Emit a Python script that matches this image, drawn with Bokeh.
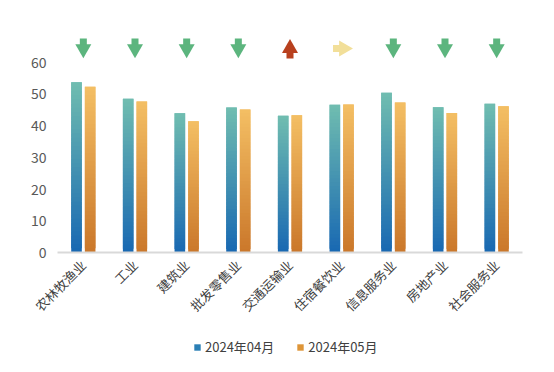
import math
from bokeh.plotting import figure
from bokeh.layouts import column
from bokeh.models import ColumnDataSource, FactorRange, Legend, LegendItem, FixedTicker, Range1d
from bokeh.transform import dodge
from bokeh.embed import file_html
from bokeh.resources import INLINE

categories = ["农林牧渔业", "工业", "建筑业", "批发零售业", "交通运输业",
              "住宿餐饮业", "信息服务业", "房地产业", "社会服务业"]
apr_values = [53.7, 48.5, 43.9, 45.7, 43.1, 46.6, 50.4, 45.8, 46.9]
may_values = [52.3, 47.6, 41.4, 45.1, 43.3, 46.7, 47.3, 44.0, 46.1]
trend = ["down", "down", "down", "down", "up", "right", "down", "down", "down"]
series_names = ["2024年04月", "2024年05月"]
y_ticks = [0, 10, 20, 30, 40, 50, 60]

FONT = "Noto Sans CJK SC"
APR_TOP, APR_BOT = (0x70, 0xBD, 0xB0), (0x18, 0x68, 0xB2)
MAY_TOP, MAY_BOT = (0xF4, 0xBF, 0x64), (0xCA, 0x77, 0x2A)


def mix(c_bot, c_top, t):
    r, g, b = (round(c_bot[i] + (c_top[i] - c_bot[i]) * t) for i in range(3))
    return "#%02x%02x%02x" % (r, g, b)


def gradient_source(values, c_bot, c_top, n=40):
    xs, bots, tops, cols = [], [], [], []
    for cat, v in zip(categories, values):
        for k in range(n):
            xs.append(cat)
            bots.append(v * k / n)
            tops.append(min(v, v * (k + 2) / n))
            cols.append(mix(c_bot, c_top, (k + 0.5) / n))
    return ColumnDataSource(dict(x=xs, bottom=bots, top=tops, color=cols))


p = figure(x_range=FactorRange(*categories, range_padding=0), y_range=(0, 70),
           width=554, height=328, output_backend="svg", toolbar_location=None,
           min_border_left=57, min_border_right=32, min_border_top=30,
           min_border_bottom=76)
p.outline_line_color = None
p.grid.grid_line_color = None

BW = 0.205
OFF = 0.132
src_a = gradient_source(apr_values, APR_BOT, APR_TOP)
src_m = gradient_source(may_values, MAY_BOT, MAY_TOP)
p.vbar(x=dodge("x", -OFF, range=p.x_range), bottom="bottom", top="top", width=BW,
       fill_color="color", line_color=None, source=src_a)
p.vbar(x=dodge("x", OFF, range=p.x_range), bottom="bottom", top="top", width=BW,
       fill_color="color", line_color=None, source=src_m)

# trend arrows
arrow_colors = {"down": "#5cb57e", "up": "#b8401e", "right": "#f2df99"}
for d in ["down", "up", "right"]:
    cats = [c for c, t in zip(categories, trend) if t == d]
    if not cats:
        continue
    src = ColumnDataSource(dict(x=cats))
    col = arrow_colors[d]
    if d == "down":
        p.rect(x="x", y=66.3, width=7, height=7.5, width_units="screen", height_units="screen",
               fill_color=col, line_color=None, source=src)
        p.scatter(x="x", y=64.2, marker="inverted_triangle", size=16, fill_color=col,
                  line_color=None, source=src)
    elif d == "up":
        p.rect(x="x", y=62.35, width=7, height=7.5, width_units="screen", height_units="screen",
               fill_color=col, line_color=None, source=src)
        p.scatter(x="x", y=64.4, marker="triangle", size=16, fill_color=col,
                  line_color=None, source=src)
    else:
        p.rect(x=dodge("x", -0.09, range=p.x_range), y=64.3, width=8, height=7,
               width_units="screen", height_units="screen",
               fill_color=col, line_color=None, source=src)
        p.scatter(x=dodge("x", 0.04, range=p.x_range), y=64.3, marker="triangle",
                  angle=-math.pi / 2, size=16, fill_color=col, line_color=None, source=src)

# axes
p.yaxis.ticker = FixedTicker(ticks=y_ticks)
p.yaxis.axis_line_color = None
p.yaxis.major_tick_line_color = None
p.yaxis.minor_tick_line_color = None
p.yaxis.major_label_standoff = 5
p.yaxis.major_label_text_font = FONT
p.yaxis.major_label_text_font_size = "14px"
p.yaxis.major_label_text_color = "#595959"

p.xaxis.axis_line_color = "#d9d9d9"
p.xaxis.axis_line_width = 2
p.xaxis.major_tick_line_color = None
p.xaxis.minor_tick_line_color = None
p.xaxis.major_label_orientation = math.pi / 4
p.xaxis.major_label_standoff = 4
p.xaxis.major_label_text_font = FONT
p.xaxis.major_label_text_font_size = "13px"
p.xaxis.major_label_text_color = "#404040"

# legend in its own strip below
lg = figure(width=554, height=38, output_backend="svg", toolbar_location=None,
            x_range=Range1d(0, 1), y_range=Range1d(0, 1),
            min_border_left=0, min_border_right=0, min_border_top=0, min_border_bottom=0)
lg.axis.visible = False
lg.grid.visible = False
lg.outline_line_color = None
hidden = ColumnDataSource(dict(x=[0.5], top=[0.0]))
r1 = lg.vbar(x="x", top="top", width=0.1, fill_color="#2a7fb5", line_color=None, source=hidden)
r2 = lg.vbar(x="x", top="top", width=0.1, fill_color="#de9538", line_color=None, source=hidden)
legend = Legend(items=[LegendItem(label=series_names[0], renderers=[r1]),
                       LegendItem(label=series_names[1], renderers=[r2])],
                orientation="horizontal", location=(136, 10))
legend.glyph_width = 8
legend.glyph_height = 8
legend.label_standoff = 4
legend.spacing = 22
legend.border_line_color = None
legend.background_fill_alpha = 0
legend.label_text_font = FONT
legend.label_text_font_size = "13px"
legend.label_text_color = "#404040"
legend.margin = 0
legend.padding = 0
lg.add_layout(legend)

layout = column(p, lg, spacing=0)
open("out.html", "w").write(file_html(layout, INLINE))
